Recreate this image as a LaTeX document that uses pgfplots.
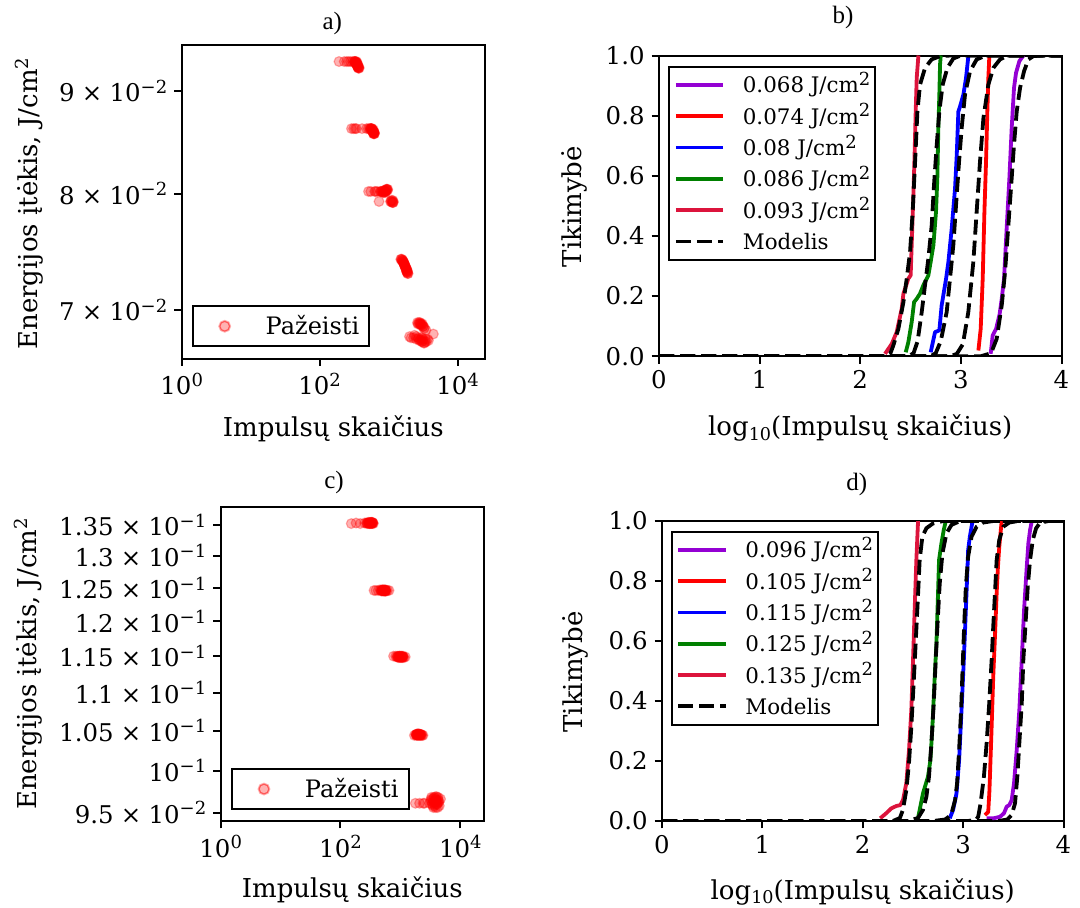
\documentclass[border=0pt]{standalone}
\usepackage{fontspec}
\setmainfont{DejaVu Serif}
\newfontfamily\timesfont{Liberation Serif}
\usepackage{pgfplots}
\pgfplotsset{compat=1.18}
\definecolor{cviolet}{HTML}{9400D3}
\definecolor{cgreen}{HTML}{008000}
\definecolor{ccrimson}{HTML}{DC143C}
\newcommand{\sups}[1]{\raisebox{0.35em}{\fontsize{9}{9}\selectfont #1}}
\newcommand{\subs}[1]{\raisebox{-0.18em}{\fontsize{8.8}{8.8}\selectfont #1}}
\newcommand{\sci}[2]{#1\hspace{0.3em}×\hspace{0.3em}10\sups{−#2}}
\pgfplotsset{
 myaxis/.style={scale only axis, anchor=south west,
  axis line style={line width=1pt},
  tick style={line width=1pt, black},
  major tick length=3.7pt, tick align=outside, tick pos=left,
  xminorticks=false, yminorticks=false,
  tick label style={font=\fontsize{12.2}{12.2}\selectfont},
  label style={font=\fontsize{13}{13}\selectfont},
  legend style={draw=black, line width=1pt, fill=white},
 },
 scat/.style={only marks, mark=*, mark size=2.45pt, red, mark options={line width=0.6pt, opacity=0.3}},
 scatleg/.style={legend style={font=\fontsize{12}{12}\selectfont, inner xsep=5pt, inner ysep=2.5pt, row sep=0pt,
   nodes={inner sep=0pt, text height=11.5pt, text depth=3.5pt},
   /tikz/every odd column/.append style={column sep=9.5pt}},
   legend cell align=left,
   legend image code/.code={\path (0pt,0pt) (21pt,0pt);
     \fill[red, opacity=0.3] (10.5pt,0pt) circle (2.7pt);
     \draw[red, opacity=0.3, line width=0.6pt] (10.5pt,0pt) circle (2.4pt);}},
 lineleg/.style={legend style={font=\fontsize{10.7}{10.7}\selectfont, inner xsep=2.3pt, inner ysep=1.3pt, row sep=0pt,
   nodes={inner sep=0pt, text height=11.8pt, text depth=3.85pt},
   /tikz/every odd column/.append style={column sep=8.8pt}},
   legend cell align=left,
   legend image code/.code={\draw[##1] (0pt,0pt) -- (23.8pt,0pt);}},
 sol/.style={line width=1.9pt, line join=round},
 mdl/.style={black, line width=1.9pt, dash pattern=on 7.5pt off 3pt},
 probaxis/.style={myaxis, xmin=0, xmax=4, ymin=0, ymax=1,
  xtick={0,1,2,3,4}, xticklabels={0,1,2,3,4},
  ytick={0,0.2,0.4,0.6,0.8,1}, yticklabels={0.0,0.2,0.4,0.6,0.8,1.0},
  lineleg},
}
\begin{document}
\begin{tikzpicture}[x=1pt,y=1pt]
\path[use as bounding box] (0,0) rectangle (540,453.5);
% ---------------- a)
\begin{axis}[myaxis, at={(90.85pt,274.25pt)}, width=151.65pt, height=156.75pt,
  xmode=log, ymode=log, xmin=1, xmax=24890, ymin=0.06621, ymax=0.09488,
  xtick={1,100,10000}, xticklabels={10\sups{0},10\sups{2},10\sups{4}},
  ytick={0.07,0.08,0.09}, yticklabels={\sci{7}{2},\sci{8}{2},\sci{9}{2}},
  xlabel={Impulsų skaičius}, ylabel={Energijos įtėkis, J/cm\sups{2}},
  xlabel style={at={(axis description cs:0.5,-0.2494)}, anchor=base},
  ylabel style={at={(axis description cs:-0.474,0.494)}, anchor=base},
  scatleg, legend style={at={(axis description cs:0.033,0.036)}, anchor=south west}]
\addplot[scat] coordinates {
(190.5,0.0931) (227.0,0.0931) (246.0,0.0931) (261.8,0.0931) (279.3,0.0931) (317.7,0.0931)
(321.4,0.0930) (325.1,0.0931) (328.9,0.0930) (332.7,0.0930) (336.5,0.0929) (340.4,0.0929)
(343.6,0.0928) (346.7,0.0928) (349.9,0.0927) (353.2,0.0926) (356.5,0.0925) (359.7,0.0925)
(363.9,0.0924) (373.3,0.0924) (300.0,0.0931) (340.0,0.0931)
(289.1,0.0862) (310.5,0.0862) (327.3,0.0862) (341.2,0.0862) (411.1,0.0862) (478.6,0.0862)
(507.0,0.0862) (534.6,0.0862) (549.5,0.0861) (564.9,0.0862) (572.8,0.0861) (580.8,0.0860)
(586.1,0.0860) (590.2,0.0859) (594.3,0.0859) (598.4,0.0858) (605.3,0.0858) (610.9,0.0857)
(616.6,0.0858) (622.3,0.0857) (560.0,0.0862) (600.0,0.0861)
(510.5,0.0802) (549.5,0.0802) (626.6,0.0802) (648.6,0.0802) (687.1,0.0802) (724.4,0.0793)
(756.8,0.0802) (783.4,0.0802) (810.9,0.0802) (833.7,0.0801) (859.0,0.0802) (881.0,0.0803)
(895.4,0.0802) (912.0,0.0803) (922.6,0.0804) (935.4,0.0804) (968.3,0.0804) (1064.1,0.0793)
(1124.6,0.0792) (1166.9,0.0793) (1100,0.0794) (1150,0.0792) (900,0.0801)
(1499.7,0.0742) (1555.9,0.0741) (1588.5,0.0741) (1610.6,0.0740) (1633.0,0.0740) (1651.9,0.0739)
(1667.2,0.0738) (1682.6,0.0738) (1698.2,0.0737) (1710.0,0.0737) (1729.8,0.0736) (1749.8,0.0735)
(1770.1,0.0735) (1786.5,0.0734) (1803.0,0.0734) (1819.7,0.0733) (1836.5,0.0732) (1853.5,0.0732)
(1875.0,0.0731) (1905.5,0.0730) (1560,0.0742) (1840,0.0731)
(2004.5,0.0679) (2113.5,0.0678) (2365.9,0.0680) (2506.1,0.0677) (2618.2,0.0690) (2703.9,0.0678)
(2747.9,0.0689) (2799.0,0.0676) (2851.0,0.0690) (2904.0,0.0677) (2958.0,0.0688) (3013.0,0.0675)
(3069.0,0.0689) (3111.7,0.0676) (3162.3,0.0687) (3221.1,0.0674) (3288.5,0.0686) (3349.7,0.0675)
(3475.4,0.0684) (3767.0,0.0676) (2884,0.0689) (3162,0.0677) (4436,0.0681)
};
\addlegendentry{Pažeisti}
\addplot[scat, forget plot] coordinates {
(320,0.0931) (330,0.0931) (338,0.0930) (345,0.0930) (352,0.0929) (358,0.0927) (362,0.0925) (368,0.0924) (370,0.0925) (355,0.0926)
(540,0.0862) (556,0.0862) (570,0.0862) (578,0.0861) (585,0.0860) (592,0.0860) (597,0.0859) (603,0.0859) (608,0.0858) (614,0.0857) (620,0.0858) (600,0.0857)
(780,0.0802) (820,0.0802) (850,0.0801) (880,0.0802) (905,0.0802) (925,0.0803) (945,0.0804) (960,0.0803) (1080,0.0793) (1120,0.0793) (1160,0.0792) (1140,0.0794)
(1520,0.0742) (1580,0.0741) (1620,0.0740) (1660,0.0739) (1700,0.0737) (1740,0.0736) (1780,0.0734) (1820,0.0732) (1860,0.0731) (1890,0.0730) (1850,0.0733)
(2650,0.0689) (2750,0.0690) (2850,0.0689) (2950,0.0689) (3050,0.0688) (3150,0.0687) (3250,0.0685)
(2300,0.0678) (2500,0.0679) (2700,0.0677) (2900,0.0676) (3100,0.0675) (3300,0.0674) (3500,0.0675) (3650,0.0677) (3400,0.0677) (3000,0.0678)
};
\end{axis}
% ---------------- b)
\begin{axis}[probaxis, at={(329.5pt,275.4pt)}, width=201.25pt, height=150.35pt,
  xlabel={log\subs{10}(Impulsų skaičius)}, ylabel={Tikimybė},
  xlabel style={at={(axis description cs:0.5,-0.265)}, anchor=base},
  ylabel style={at={(axis description cs:-0.193,0.497)}, anchor=base},
  legend style={at={(axis description cs:0.023,0.966)}, anchor=north west}]
\addplot[sol, cviolet] coordinates {(3.296,0.008) (3.316,0.069) (3.350,0.091) (3.385,0.14) (3.406,0.191) (3.429,0.258) (3.455,0.425) (3.482,0.592) (3.505,0.759) (3.528,0.892) (3.548,0.942) (3.581,0.981) (3.621,1.0)};
\addlegendentry{0.068 J/cm\sups{2}}
\addplot[sol, red] coordinates {(3.174,0.019) (3.197,0.091) (3.217,0.258) (3.234,0.481) (3.250,0.647) (3.263,0.814) (3.273,0.925) (3.283,1.0)};
\addlegendentry{0.074 J/cm\sups{2}}
\addplot[sol, blue] coordinates {(2.700,0.013) (2.743,0.080) (2.786,0.086) (2.809,0.169) (2.853,0.258) (2.876,0.314) (2.909,0.425) (2.942,0.558) (2.959,0.670) (2.975,0.814) (2.992,0.831) (3.025,0.870) (3.051,0.925) (3.075,1.0)};
\addlegendentry{0.08 J/cm\sups{2}}
\addplot[sol, cgreen] coordinates {(2.452,0.013) (2.478,0.047) (2.511,0.113) (2.535,0.180) (2.561,0.191) (2.594,0.208) (2.627,0.236) (2.677,0.269) (2.700,0.314) (2.727,0.369) (2.753,0.481) (2.766,0.592) (2.776,0.759) (2.786,0.870) (2.793,0.970) (2.800,1.0)};
\addlegendentry{0.086 J/cm\sups{2}}
\addplot[sol, ccrimson] coordinates {(2.246,0.008) (2.313,0.041) (2.362,0.080) (2.412,0.158) (2.429,0.208) (2.478,0.258) (2.501,0.269) (2.511,0.369) (2.528,0.536) (2.538,0.647) (2.551,0.814) (2.561,0.925) (2.578,1.0)};
\addlegendentry{0.093 J/cm\sups{2}}
\addplot[mdl, forget plot] coordinates {(0,0) (3.20,0) (3.30,0.01) (3.356,0.058) (3.406,0.169) (3.439,0.28) (3.472,0.436) (3.505,0.592) (3.528,0.703) (3.555,0.814) (3.588,0.892) (3.628,0.948) (3.671,0.987) (3.72,0.998) (3.8,1) (4,1)};
\addplot[mdl, forget plot] coordinates {(0,0) (2.90,0) (2.96,0.008) (3.02,0.04) (3.074,0.147) (3.124,0.314) (3.157,0.481) (3.190,0.647) (3.224,0.792) (3.273,0.903) (3.323,0.959) (3.389,0.987) (3.47,1) (4,1)};
\addplot[mdl, forget plot] coordinates {(0,0) (2.70,0) (2.75,0.01) (2.80,0.05) (2.859,0.147) (2.892,0.258) (2.925,0.369) (2.952,0.503) (2.982,0.647) (3.008,0.759) (3.041,0.870) (3.091,0.948) (3.157,0.987) (3.25,1) (4,1)};
\addplot[mdl, forget plot] coordinates {(0,0) (2.48,0) (2.53,0.01) (2.57,0.05) (2.611,0.147) (2.645,0.24) (2.677,0.325) (2.710,0.436) (2.733,0.570) (2.760,0.703) (2.786,0.814) (2.819,0.903) (2.866,0.959) (2.925,0.99) (3.0,1) (4,1)};
\addplot[mdl] coordinates {(0,0) (2.25,0) (2.30,0.01) (2.329,0.036) (2.379,0.091) (2.429,0.180) (2.462,0.258) (2.495,0.347) (2.521,0.481) (2.545,0.647) (2.568,0.814) (2.594,0.903) (2.644,0.959) (2.710,0.987) (2.793,0.998) (2.9,1) (4,1)};
\addlegendentry{Modelis}
\end{axis}
% ---------------- c)
\begin{axis}[myaxis, at={(110.35pt,43pt)}, width=131.65pt, height=157pt,
  xmode=log, ymode=log, xmin=1, xmax=24890, ymin=0.09404, ymax=0.13796,
  xtick={1,100,10000}, xticklabels={10\sups{0},10\sups{2},10\sups{4}},
  ytick={0.095,0.1,0.105,0.11,0.115,0.12,0.125,0.13,0.135},
  yticklabels={\sci{9.5}{2},10\sups{−1},\sci{1.05}{1},\sci{1.1}{1},\sci{1.15}{1},\sci{1.2}{1},\sci{1.25}{1},\sci{1.3}{1},\sci{1.35}{1}},
  xlabel={Impulsų skaičius}, ylabel={Energijos įtėkis, J/cm\sups{2}},
  xlabel style={at={(axis description cs:0.5,-0.243)}, anchor=base},
  ylabel style={at={(axis description cs:-0.7007,0.5)}, anchor=base},
  scatleg, legend style={at={(axis description cs:0.039,0.035)}, anchor=south west}]
\addplot[scat] coordinates {
(151.4,0.1352) (182.0,0.1353) (213.8,0.1352) (253.5,0.1353) (271.0,0.1353) (279.3,0.1352)
(287.1,0.1353) (293.8,0.1354) (299.2,0.1353) (305.5,0.1352) (309.0,0.1353) (312.6,0.1354)
(316.2,0.1353) (319.9,0.1352) (322.8,0.1353) (326.6,0.1354) (330.4,0.1353) (334.2,0.1352)
(338.1,0.1353) (342.8,0.1354) (347.5,0.1353) (353.2,0.1352)
(363.1,0.1246) (389.0,0.1246) (426.6,0.1246) (459.2,0.1247) (476.4,0.1246) (486.4,0.1245)
(496.6,0.1246) (503.5,0.1247) (511.7,0.1246) (520.0,0.1245) (529.7,0.1246) (538.3,0.1247)
(545.8,0.1246) (552.1,0.1245) (558.5,0.1246) (563.6,0.1247) (570.2,0.1246) (578.1,0.1245)
(608.1,0.1246) (645.7,0.1246)
(769.1,0.1150) (837.5,0.1150) (874.9,0.1149) (897.4,0.1150) (918.3,0.1149) (933.3,0.1148)
(950.6,0.1150) (966.1,0.1149) (981.7,0.1148) (995.4,0.1150) (1011.6,0.1149) (1028.0,0.1148)
(1042.3,0.1150) (1056.8,0.1149) (1071.5,0.1148) (1083.9,0.1149) (1099.0,0.1150) (1114.3,0.1149)
(1142.9,0.1148) (1205.0,0.1149)
(1714.0,0.1044) (1811.3,0.1045) (1840.8,0.1045) (1862.1,0.1044) (1883.6,0.1045) (1905.5,0.1046)
(1927.5,0.1044) (1949.8,0.1045) (1972.4,0.1046) (1990.7,0.1044) (2023.0,0.1045) (2051.2,0.1046)
(2079.7,0.1044) (2108.6,0.1045) (2138.0,0.1044) (2167.7,0.1045) (2208.0,0.1044) (2249.0,0.1045)
(2306.7,0.1044) (2382.3,0.1044)
(1778.3,0.0961) (2089.3,0.0961) (2398.8,0.0961) (2535.5,0.0961) (3062.0,0.0961) (3206.3,0.0964)
(3303.7,0.0968) (3396.3,0.0960) (3483.4,0.0966) (3556.3,0.0956) (3639.1,0.0968) (3698.2,0.0962)
(3758.4,0.0958) (3819.4,0.0966) (3881.5,0.0956) (3944.6,0.0969) (4008.7,0.0960) (4083.2,0.0964)
(4178.3,0.0956) (4265.8,0.0968) (4365.2,0.0962) (4466.8,0.0958) (4677.4,0.0966)
};
\addlegendentry{Pažeisti}
\addplot[scat, forget plot] coordinates {
(280,0.1353) (295,0.1353) (305,0.1353) (315,0.1353) (325,0.1353) (335,0.1353) (345,0.1353) (300,0.1352) (330,0.1354)
(480,0.1246) (500,0.1246) (520,0.1246) (540,0.1246) (555,0.1246) (570,0.1246) (510,0.1247) (550,0.1245)
(900,0.1149) (940,0.1149) (980,0.1149) (1010,0.1149) (1040,0.1149) (1070,0.1149) (1100,0.1149) (960,0.1150)
(1850,0.1045) (1900,0.1045) (1960,0.1045) (2020,0.1045) (2080,0.1045) (2140,0.1045) (2200,0.1045)
(3300,0.0966) (3450,0.0962) (3600,0.0964) (3700,0.0960) (3800,0.0962) (3900,0.0966) (4000,0.0964) (4100,0.0960) (4200,0.0962) (4300,0.0965) (4400,0.0963) (3500,0.0958) (3750,0.0968) (4050,0.0968)
};
\end{axis}
% ---------------- d)
\begin{axis}[probaxis, at={(331pt,43pt)}, width=200.75pt, height=150pt,
  xlabel={log\subs{10}(Impulsų skaičius)}, ylabel={Tikimybė},
  xlabel style={at={(axis description cs:0.5,-0.261)}, anchor=base},
  ylabel style={at={(axis description cs:-0.197,0.497)}, anchor=base},
  legend style={at={(axis description cs:0.022,0.968)}, anchor=north west}]
\addplot[sol, cviolet] coordinates {(3.234,0.009) (3.30,0.009) (3.367,0.014) (3.407,0.026) (3.434,0.048) (3.46,0.053) (3.484,0.070) (3.507,0.126) (3.534,0.237) (3.56,0.370) (3.584,0.537) (3.607,0.703) (3.634,0.848) (3.65,0.926) (3.667,0.970) (3.684,1.0)};
\addlegendentry{0.096 J/cm\sups{2}}
\addplot[sol, red] coordinates {(3.217,0.020) (3.25,0.03) (3.262,0.10) (3.267,0.148) (3.284,0.314) (3.30,0.481) (3.317,0.614) (3.334,0.759) (3.347,0.848) (3.36,0.914) (3.384,1.0)};
\addlegendentry{0.105 J/cm\sups{2}}
\addplot[sol, blue] coordinates {(2.867,0.009) (2.90,0.037) (2.934,0.092) (2.96,0.203) (2.984,0.370) (3.007,0.537) (3.027,0.703) (3.040,0.814) (3.050,0.903) (3.067,0.948) (3.094,1.0)};
\addlegendentry{0.115 J/cm\sups{2}}
\addplot[sol, cgreen] coordinates {(2.550,0.009) (2.567,0.037) (2.60,0.092) (2.65,0.148) (2.674,0.203) (2.694,0.314) (2.717,0.481) (2.734,0.592) (2.750,0.759) (2.760,0.870) (2.784,0.926) (2.807,0.970) (2.827,1.0)};
\addlegendentry{0.125 J/cm\sups{2}}
\addplot[sol, ccrimson] coordinates {(2.174,0.009) (2.234,0.026) (2.284,0.042) (2.334,0.050) (2.374,0.053) (2.401,0.070) (2.434,0.126) (2.461,0.237) (2.484,0.370) (2.501,0.537) (2.517,0.703) (2.534,0.870) (2.551,1.0)};
\addlegendentry{0.135 J/cm\sups{2}}
\addplot[mdl, forget plot] coordinates {(0,0) (3.35,0) (3.44,0.005) (3.484,0.02) (3.517,0.059) (3.54,0.148) (3.56,0.259) (3.584,0.392) (3.60,0.537) (3.624,0.67) (3.644,0.781) (3.667,0.87) (3.694,0.937) (3.727,0.976) (3.767,0.994) (3.85,1.0) (4,1)};
\addplot[mdl, forget plot] coordinates {(0,0) (3.05,0) (3.13,0.005) (3.15,0.014) (3.174,0.059) (3.207,0.148) (3.234,0.259) (3.26,0.392) (3.284,0.537) (3.30,0.648) (3.317,0.759) (3.334,0.87) (3.36,0.937) (3.40,0.981) (3.46,0.995) (3.55,1.0) (4,1)};
\addplot[mdl, forget plot] coordinates {(0,0) (2.70,0) (2.82,0.005) (2.88,0.02) (2.92,0.07) (2.94,0.126) (2.96,0.237) (2.98,0.37) (2.994,0.503) (3.01,0.648) (3.027,0.781) (3.05,0.881) (3.084,0.948) (3.134,0.981) (3.2,0.995) (3.3,1.0) (4,1)};
\addplot[mdl, forget plot] coordinates {(0,0) (2.45,0) (2.55,0.01) (2.60,0.037) (2.634,0.081) (2.66,0.148) (2.684,0.259) (2.707,0.392) (2.727,0.537) (2.747,0.67) (2.767,0.792) (2.794,0.892) (2.834,0.959) (2.884,0.987) (2.97,1.0) (4,1)};
\addplot[mdl] coordinates {(0,0) (2.30,0) (2.37,0.01) (2.40,0.037) (2.434,0.103) (2.46,0.19) (2.484,0.314) (2.507,0.459) (2.527,0.592) (2.55,0.748) (2.567,0.87) (2.594,0.948) (2.634,0.976) (2.70,0.992) (2.80,1.0) (4,1)};
\addlegendentry{Modelis}
\end{axis}
% titles
\node[font=\timesfont\fontsize{12.5}{12.5}\selectfont, anchor=base] at (166.15,438.5) {a)};
\node[font=\timesfont\fontsize{12.5}{12.5}\selectfont, anchor=base] at (421.5,441.5) {b)};
\node[font=\timesfont\fontsize{12.5}{12.5}\selectfont, anchor=base] at (167,209.35) {c)};
\node[font=\timesfont\fontsize{12.5}{12.5}\selectfont, anchor=base] at (428.4,208.5) {d)};
\end{tikzpicture}
\end{document}
